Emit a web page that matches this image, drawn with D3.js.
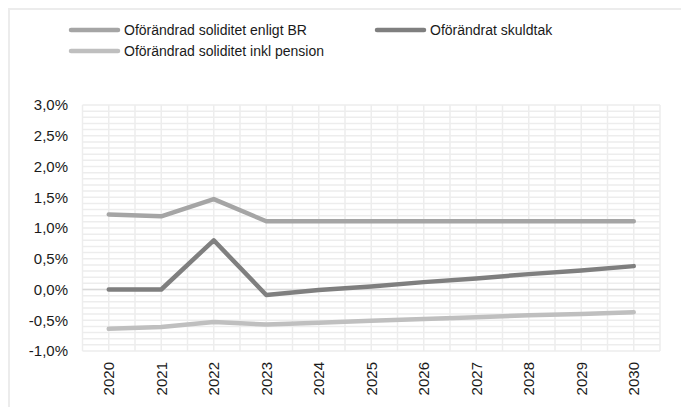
<!DOCTYPE html>
<html><head><meta charset="utf-8">
<script src="https://cdn.jsdelivr.net/npm/d3@7"></script>
<style>body{margin:0;background:#fff}svg{display:block;font-family:"Liberation Sans",Arial,sans-serif}</style>
</head><body><svg id="c" width="681" height="407"></svg>
<script>
const years = ["2020","2021","2022","2023","2024","2025","2026","2027","2028","2029","2030"];
const seriesNames = ["Oförändrad soliditet enligt BR","Oförändrat skuldtak","Oförändrad soliditet inkl pension"];
const soliditetBR = [1.22,1.19,1.47,1.11,1.11,1.11,1.11,1.11,1.11,1.11,1.11];
const skuldtak = [0.00,0.00,0.80,-0.09,-0.01,0.05,0.12,0.18,0.25,0.31,0.38];
const soliditetPension = [-0.64,-0.61,-0.53,-0.57,-0.54,-0.51,-0.48,-0.45,-0.42,-0.40,-0.37];
const yTicks = [3.0,2.5,2.0,1.5,1.0,0.5,0.0,-0.5,-1.0];
const colors = ["#a5a5a5","#7f7f7f","#bfbfbf"];

const svg = d3.select("#c");
// outer frame
svg.append("path").attr("d","M9,407 V9 H681").attr("fill","none").attr("stroke","#ececec").attr("stroke-width",2);

const L=82.5,R=660,T=105,B=351;
const x = d3.scaleBand().domain(years).range([L,R]);
const y = d3.scaleLinear().domain([-1,3]).range([B,T]);
const g = svg.append("g");
// horizontal minor gridlines every 0.1
const hs = d3.range(-10,31).map(d=>d/10);
g.selectAll("line.h").data(hs).enter().append("line")
 .attr("x1",L).attr("x2",R).attr("y1",d=>y(d)).attr("y2",d=>y(d))
 .attr("stroke","#ededed").attr("stroke-width",1.5);
// vertical gridlines at boundaries and centers
const vs = [];
years.forEach(yr=>{vs.push(x(yr)); vs.push(x(yr)+x.bandwidth()/2);});
vs.push(R);
g.selectAll("line.v").data(vs).enter().append("line")
 .attr("x1",d=>d).attr("x2",d=>d).attr("y1",T).attr("y2",B)
 .attr("stroke","#ededed").attr("stroke-width",1.5);
// zero line
g.append("line").attr("x1",L).attr("x2",R).attr("y1",y(0)).attr("y2",y(0)).attr("stroke","#d9d9d9").attr("stroke-width",1.5);

// y axis labels
const fmt = d=>d3.format(".1f")(d).replace(".",",").replace("−","-")+"%";
svg.append("g").selectAll("text").data(yTicks).enter().append("text")
 .attr("x",68).attr("y",d=>y(d)).attr("dy","0.35em").attr("text-anchor","end")
 .attr("font-size",15).attr("fill","#1a1a1a").text(fmt);
// x axis labels
svg.append("g").selectAll("text").data(years).enter().append("text")
 .attr("transform",d=>`translate(${x(d)+x.bandwidth()/2+5.5},362) rotate(-90)`)
 .attr("text-anchor","end").attr("font-size",15).attr("fill","#1a1a1a").text(d=>d);

// lines
const data = [soliditetBR, skuldtak, soliditetPension];
const line = d3.line().x((d,i)=>x(years[i])+x.bandwidth()/2).y(d=>y(d));
[2,0,1].forEach(k=>{
 svg.append("path").datum(data[k]).attr("d",line).attr("fill","none")
  .attr("stroke",colors[k]).attr("stroke-width",4.5).attr("stroke-linecap","round").attr("stroke-linejoin","round");
});

// legend
const leg = [{i:0,x:71,y:30},{i:1,x:377,y:30},{i:2,x:71,y:51}];
leg.forEach(o=>{
 svg.append("line").attr("x1",o.x).attr("x2",o.x+47).attr("y1",o.y).attr("y2",o.y)
  .attr("stroke",colors[o.i]).attr("stroke-width",4.5).attr("stroke-linecap","round");
 svg.append("text").attr("x",o.x+53).attr("y",o.y).attr("dy","0.35em")
  .attr("font-size",14).attr("fill","#1a1a1a").text(seriesNames[o.i]);
});
</script></body></html>
